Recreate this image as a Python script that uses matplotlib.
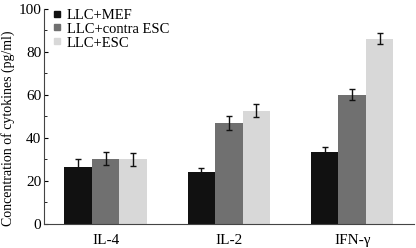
import matplotlib
matplotlib.use("Agg")
import matplotlib.pyplot as plt
import numpy as np
from matplotlib.ticker import MultipleLocator
from matplotlib.lines import Line2D

categories = ["IL-4", "IL-2", "IFN-γ"]
series = ["LLC+MEF", "LLC+contra ESC", "LLC+ESC"]
mef = [26.5, 24.2, 33.6]
contra = [30.4, 47.1, 60.1]
esc = [30.0, 52.7, 86.2]
mef_err = [3.5, 2.0, 2.3]
contra_err = [3.0, 3.3, 2.5]
esc_err = [3.0, 3.0, 2.5]
colors = ["#111111", "#707070", "#d8d8d8"]

plt.rcParams['font.family'] = ['Liberation Serif', 'DejaVu Serif']
fig = plt.figure(figsize=(4.16, 2.48), dpi=100)
ax = fig.add_axes([0.1058, 0.0968, 0.889, 0.867])

x = np.arange(len(categories))
w = 0.223
vals = [mef, contra, esc]
errs = [mef_err, contra_err, esc_err]
for i in range(3):
    ax.bar(x + (i - 1) * w, vals[i], w, color=colors[i], yerr=errs[i],
           error_kw=dict(ecolor="#111111", elinewidth=1, capsize=2, capthick=1))

ax.set_xlim(-0.5, 2.5)
ax.set_ylim(0, 100)
ax.set_xticks(x)
ax.set_xticklabels(categories, fontsize=11)
ax.tick_params(axis='x', length=0, pad=7)
ax.yaxis.set_major_locator(MultipleLocator(20))
ax.yaxis.set_minor_locator(MultipleLocator(10))
ax.tick_params(axis='y', which='both', direction='in', labelsize=11, pad=2)
ax.tick_params(axis='y', which='major', length=3)
ax.tick_params(axis='y', which='minor', length=2)
ax.spines['top'].set_visible(False)
ax.spines['right'].set_visible(False)
ax.spines['left'].set_color('#444444')
ax.spines['bottom'].set_color('#444444')
ax.set_ylabel("Concentration of cytokines (pg/ml)", fontsize=10)
ax.yaxis.set_label_coords(-0.078, 0.445)

handles = [Line2D([], [], marker='s', linestyle='none', markersize=4,
                  color=c) for c in colors]
ax.legend(handles, series, loc='upper left', bbox_to_anchor=(-0.017, 1.05),
          frameon=False, fontsize=10.5, handletextpad=0.1, labelspacing=0.05,
          borderaxespad=0.3, handlelength=1.2)

fig.savefig("out.png", dpi=100)
